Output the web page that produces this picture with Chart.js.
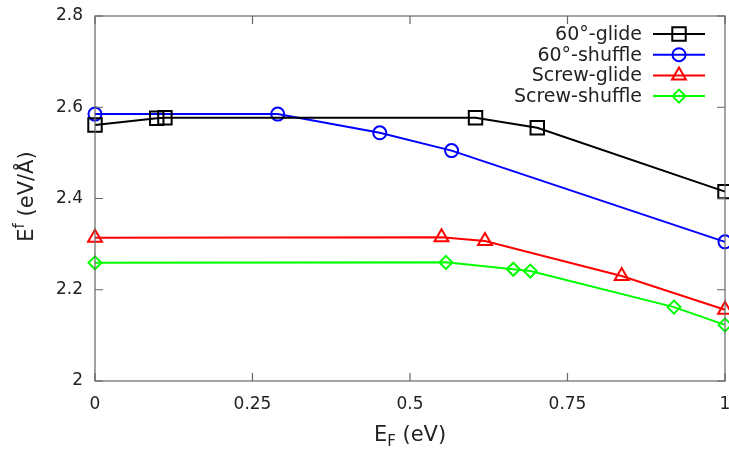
<!DOCTYPE html>
<html>
<head>
<meta charset="utf-8">
<script src="https://cdn.jsdelivr.net/npm/chart.js@4.4.1/dist/chart.umd.min.js"></script>
<style>
  html, body { margin: 0; padding: 0; background: #ffffff; }
  #main-chart { display: block; }
</style>
</head>
<body>
<canvas id="main-chart" width="729" height="450"></canvas>
<script>
const chart_width = 729;
const chart_height = 450;

// data
const glide60_x = [0, 0.098, 0.111, 0.604, 0.702, 1];
const glide60_y = [2.561, 2.576, 2.577, 2.577, 2.555, 2.415];

const shuffle60_x = [0, 0.29, 0.452, 0.566, 1];
const shuffle60_y = [2.585, 2.585, 2.544, 2.505, 2.305];

const screw_glide_x = [0, 0.55, 0.619, 0.836, 1];
const screw_glide_y = [2.314, 2.315, 2.307, 2.23, 2.156];

const screw_shuffle_x = [0, 0.557, 0.664, 0.691, 0.919, 1];
const screw_shuffle_y = [2.259, 2.26, 2.245, 2.241, 2.162, 2.123];

const series_names = ["60°-glide", "60°-shuffle", "Screw-glide", "Screw-shuffle"];
const series_colors = ["#000000", "#0000ff", "#ff0000", "#00ff00"];
const series_markers = ["rect", "circle", "triangle", "rectRot"];
const series_radius = [9.5, 6.5, 8, 6.5];

const x_ticks = [0, 0.25, 0.5, 0.75, 1];
const y_ticks = [2, 2.2, 2.4, 2.6, 2.8];

const font_name = "'DejaVu Sans', sans-serif";
const text_color = "#222222";
const frame_color = "#666666";

function toPoints(xs, ys)
{
    let pts = [];
    for(let i = 0; i < xs.length; i++)
        pts.push({x: xs[i], y: ys[i]});
    return pts;
}

const all_x = [glide60_x, shuffle60_x, screw_glide_x, screw_shuffle_x];
const all_y = [glide60_y, shuffle60_y, screw_glide_y, screw_shuffle_y];

let datasets = [];
for(let i = 0; i < series_names.length; i++)
{
    datasets.push({
        label: series_names[i],
        data: toPoints(all_x[i], all_y[i]),
        borderColor: series_colors[i],
        backgroundColor: "rgba(0,0,0,0)",
        borderWidth: 2,
        pointStyle: series_markers[i],
        pointRadius: series_radius[i],
        pointBorderWidth: 2,
        pointBorderColor: series_colors[i],
        pointBackgroundColor: "rgba(0,0,0,0)",
        tension: 0,
        clip: false
    });
}

// frame, inward ticks, axis titles and key, gnuplot style
const framePlugin = {
    id: "frame",
    afterDatasetsDraw(chart)
    {
        const ctx = chart.ctx;
        const area = chart.chartArea;
        const xs = chart.scales.x;
        const ys = chart.scales.y;
        const tick_len = 8;

        ctx.save();
        ctx.strokeStyle = frame_color;
        ctx.lineWidth = 1.2;
        ctx.strokeRect(area.left, area.top, area.right - area.left, area.bottom - area.top);

        ctx.beginPath();
        for(const v of x_ticks)
        {
            const px = xs.getPixelForValue(v);
            ctx.moveTo(px, area.bottom);
            ctx.lineTo(px, area.bottom - tick_len);
            ctx.moveTo(px, area.top);
            ctx.lineTo(px, area.top + tick_len);
        }
        for(const v of y_ticks)
        {
            const py = ys.getPixelForValue(v);
            ctx.moveTo(area.left, py);
            ctx.lineTo(area.left + tick_len, py);
            ctx.moveTo(area.right, py);
            ctx.lineTo(area.right - tick_len, py);
        }
        ctx.stroke();

        // x title: E_F (eV)
        ctx.fillStyle = text_color;
        ctx.textBaseline = "alphabetic";
        ctx.textAlign = "left";
        const big = "21px " + font_name;
        const small = "15px " + font_name;
        ctx.font = big;
        const wE = ctx.measureText("E").width;
        const wRest = ctx.measureText(" (eV)").width;
        ctx.font = small;
        const wF = ctx.measureText("F").width;
        let tx = (area.left + area.right) / 2 - (wE + wF + wRest) / 2;
        const ty = 441;
        ctx.font = big;
        ctx.fillText("E", tx, ty);
        ctx.font = small;
        ctx.fillText("F", tx + wE, ty + 5);
        ctx.font = big;
        ctx.fillText(" (eV)", tx + wE + wF, ty);

        // y title: E^f (eV/Å)
        ctx.save();
        ctx.translate(33, (area.top + area.bottom) / 2 - 2);
        ctx.rotate(-Math.PI / 2);
        ctx.font = big;
        const wE2 = ctx.measureText("E").width;
        const wRest2 = ctx.measureText(" (eV/Å)").width;
        ctx.font = small;
        const wf = ctx.measureText("f").width;
        let sx = -(wE2 + wf + wRest2) / 2;
        ctx.font = big;
        ctx.fillText("E", sx, 0);
        ctx.font = small;
        ctx.fillText("f", sx + wE2, -9);
        ctx.font = big;
        ctx.fillText(" (eV/Å)", sx + wE2 + wf, 0);
        ctx.restore();

        // key
        const key_text_right = 642;
        const key_line_left = 653;
        const key_line_right = 705;
        const key_top = 34;
        const key_step = 20.7;
        ctx.font = "19px " + font_name;
        ctx.textAlign = "right";
        ctx.textBaseline = "middle";
        chart.data.datasets.forEach((ds, i) => {
            const y = key_top + i * key_step;
            ctx.fillStyle = text_color;
            ctx.fillText(ds.label, key_text_right, y + 1);
            ctx.strokeStyle = ds.borderColor;
            ctx.lineWidth = 2;
            ctx.beginPath();
            ctx.moveTo(key_line_left, y);
            ctx.lineTo(key_line_right, y);
            ctx.stroke();
            ctx.fillStyle = "rgba(0,0,0,0)";
            Chart.helpers.drawPoint(ctx, {
                pointStyle: ds.pointStyle,
                radius: ds.pointRadius,
                rotation: 0,
                borderWidth: 2
            }, (key_line_left + key_line_right) / 2, y);
        });
        ctx.restore();
    }
};

function tickLabel(value)
{
    return String(Number(value.toFixed(2)));
}

const config = {
    type: "line",
    data: { datasets: datasets },
    options: {
        responsive: false,
        animation: false,
        layout: {
            autoPadding: false,
            padding: { top: 16, right: 4, left: 0, bottom: 0 }
        },
        plugins: {
            legend: { display: false },
            tooltip: { enabled: false }
        },
        scales: {
            x: {
                type: "linear",
                min: 0,
                max: 1,
                afterBuildTicks(scale) {
                    scale.ticks = x_ticks.map(v => ({value: v}));
                },
                afterFit(scale) {
                    scale.height = 69;
                    scale.paddingLeft = 0;
                    scale.paddingRight = 0;
                },
                grid: { display: false, drawTicks: false },
                border: { display: false },
                ticks: {
                    padding: 13,
                    color: text_color,
                    font: { family: font_name, size: 17 },
                    callback: tickLabel,
                    maxRotation: 0
                }
            },
            y: {
                type: "linear",
                min: 2,
                max: 2.8,
                afterBuildTicks(scale) {
                    scale.ticks = y_ticks.map(v => ({value: v}));
                },
                afterFit(scale) {
                    scale.width = 95;
                    scale.paddingTop = 0;
                    scale.paddingBottom = 0;
                },
                grid: { display: false, drawTicks: false },
                border: { display: false },
                ticks: {
                    padding: 12,
                    color: text_color,
                    font: { family: font_name, size: 17 },
                    callback: tickLabel
                }
            }
        }
    },
    plugins: [framePlugin]
};

const main_chart = new Chart(document.getElementById("main-chart").getContext("2d"), config);
</script>
</body>
</html>
